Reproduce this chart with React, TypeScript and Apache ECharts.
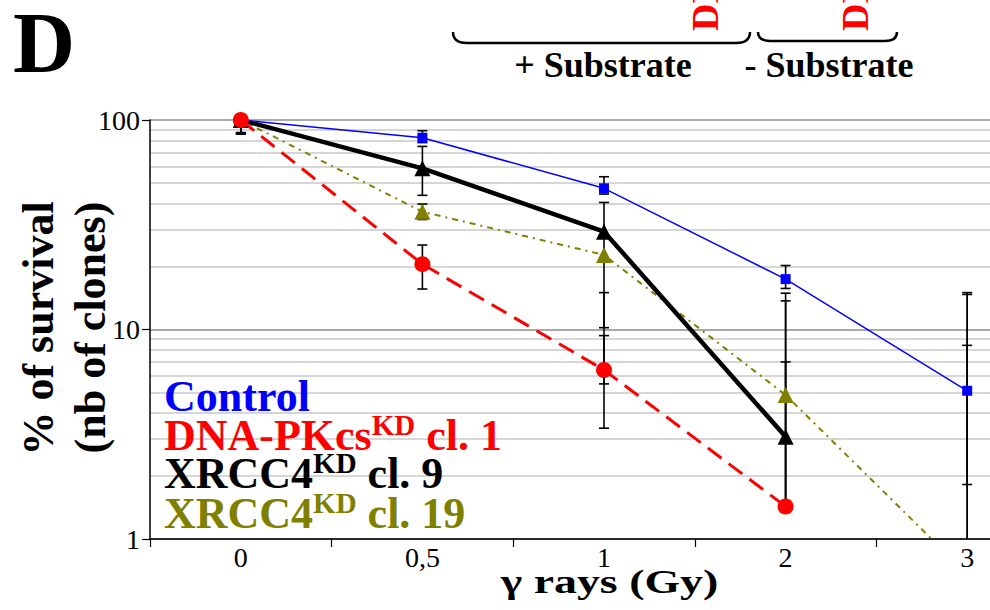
import React, { useEffect, useRef } from 'react';
import * as echarts from 'echarts';

// ---------- data ----------
const doseLabels = ['0', '0,5', '1', '2', '3'];
const yMinValue = 1;
const yMaxValue = 100;
const minorGridValues = [2, 3, 4, 5, 6, 7, 8, 9, 20, 30, 40, 50, 60, 70, 80, 90];

const controlSurvival = [100, 82.3, 47.2, 17.4, 5.1];
const controlLow = [87, 78, 44.3, 15.7, 1.82];
const controlHigh = [105.7, 88.9, 53.6, 20.2, 8.4];

const dnapkSurvival = [100, 20.5, 6.41, 1.43, null];
const dnapkLow = [87, 15.6, 3.38, 1.35, null];
const dnapkHigh = [105.7, 25.3, 9.35, 7.0, null];

const xrcc9Survival = [100, 58.8, 29.3, 3.08, null];
const xrcc9Low = [85.7, 43.7, 10.2, 1.45, 0.5];
const xrcc9High = [103.3, 74.8, 40.4, 14.9, 15.0];

const xrcc19Survival = [100, 36.5, 22.7, 4.87, 0.68];
const xrcc19Low = [85.7, 33.5, 5.5, 1.5, 0.5];
const xrcc19High = [103.3, 39.7, 15.0, 13.7, 14.7];

const legendItems = [
  { name: 'Control', sup: '', tail: '', color: '#0000ff' },
  { name: 'DNA-PKcs', sup: 'KD', tail: ' cl. 1', color: '#ff0000' },
  { name: 'XRCC4', sup: 'KD', tail: ' cl. 9', color: '#000000' },
  { name: 'XRCC4', sup: 'KD', tail: ' cl. 19', color: '#808000' },
];

const SERIF = 'Liberation Serif';

export default function App() {
  const ref = useRef<HTMLDivElement>(null);

  useEffect(() => {
    const chart = echarts.init(ref.current!, null, { renderer: 'svg' });
    const canvas = document.createElement('canvas');
    const ctx = canvas.getContext('2d')!;
    const measure = (t: string, size: number, weight = 'bold') => {
      ctx.font = `${weight} ${size}px "${SERIF}"`;
      return ctx.measureText(t).width;
    };
    const mid = (baseline: number, size: number) => baseline - 0.3375 * size;

    const txt = (
      text: string, x: number, y: number, size: number, color: string,
      align = 'left', extra: any = {}, weight = 'bold', lineHeight?: number
    ) => ({
      type: 'text', x, y, z: 20, silent: true, ...extra,
      style: {
        text, fill: color, fontSize: size, fontWeight: weight, fontFamily: SERIF,
        align, verticalAlign: 'middle', ...(lineHeight ? { lineHeight } : {}),
      },
    });

    const graphics: any[] = [];
    // panel letter
    graphics.push(txt('D', 13, mid(71.7, 86), 86, '#000', 'left', {}, 'bold', 70));
    // brackets
    const br = { stroke: '#000', lineWidth: 2.5, fill: 'none' };
    graphics.push({ type: 'bezierCurve', z: 20, shape: { x1: 453, y1: 32, x2: 467, y2: 43, cpx1: 453, cpy1: 43 }, style: br });
    graphics.push({ type: 'line', z: 20, shape: { x1: 467, y1: 43, x2: 736, y2: 43 }, style: br });
    graphics.push({ type: 'bezierCurve', z: 20, shape: { x1: 736, y1: 43, x2: 750, y2: 32, cpx1: 750, cpy1: 43 }, style: br });
    graphics.push({ type: 'bezierCurve', z: 20, shape: { x1: 758, y1: 32, x2: 770, y2: 41, cpx1: 758, cpy1: 41 }, style: br });
    graphics.push({ type: 'line', z: 20, shape: { x1: 770, y1: 41, x2: 885, y2: 41 }, style: br });
    graphics.push({ type: 'bezierCurve', z: 20, shape: { x1: 885, y1: 41, x2: 897, y2: 32, cpx1: 897, cpy1: 41 }, style: br });
    // rotated red labels (cut off at top, as in the source figure)
    graphics.push(txt('DNA-PKcs', 705.3, 31, 38, '#ff0000', 'left', { rotation: Math.PI / 2 }));
    graphics.push(txt('DNA-PKcs', 855.3, 31, 38, '#ff0000', 'left', { rotation: Math.PI / 2 }));
    // substrate labels
    graphics.push(txt('+ Substrate', 603, mid(77.3, 36), 36, '#000', 'center'));
    graphics.push(txt('- Substrate', 829, mid(77.3, 36), 36, '#000', 'center'));
    // y title
    graphics.push(txt('% of survival', 53 - 0.3375 * 44, 328.5, 44, '#000', 'center', { rotation: Math.PI / 2 }));
    graphics.push(txt('(nb of clones)', 105 - 0.3375 * 44, 327.5, 44, '#000', 'center', { rotation: Math.PI / 2 }));
    // x title
    const xTitle = 'γ rays (Gy)';
    const xScale = 217.6 / measure(xTitle, 33);
    graphics.push(txt(xTitle, 609.5, mid(593.3, 33), 33, '#000', 'center', { scaleX: xScale }));
    // legend
    const legendBaselines = [411.7, 450.7, 488.8, 528.3];
    const legendLeft = 164;
    legendItems.forEach((it, i) => {
      const b = legendBaselines[i];
      let x = legendLeft;
      graphics.push(txt(it.name, x, mid(b, 44), 44, it.color, 'left', {}, 'bold', 36));
      x += measure(it.name, 44);
      if (it.sup) {
        graphics.push(txt(it.sup, x, mid(b - 15.7, 29), 29, it.color, 'left', {}, 'bold', 22));
        x += measure(it.sup, 29);
      }
      if (it.tail) graphics.push(txt(it.tail, x, mid(b, 44), 44, it.color, 'left', {}, 'bold', 36));
    });

    const errData: any[] = [];
    const addErr = (low: (number | null)[], high: (number | null)[]) => {
      low.forEach((l, i) => {
        const h = high[i];
        if (l != null && h != null) errData.push([i, l, h]);
      });
    };
    addErr(controlLow, controlHigh);
    addErr(dnapkLow, dnapkHigh);
    addErr(xrcc9Low, xrcc9High);
    addErr(xrcc19Low, xrcc19High);

    const option: any = {
      animation: false,
      grid: { left: 150, right: -68, top: 120, bottom: 71, containLabel: false, outerBoundsMode: 'none' },
      xAxis: {
        type: 'category',
        data: doseLabels,
        boundaryGap: true,
        axisLine: { show: true, lineStyle: { color: '#000', width: 1.5 } },
        axisTick: { show: true, length: 8, alignWithLabel: false, interval: 0, lineStyle: { color: '#000', width: 1.2 } },
        axisLabel: { color: '#000', fontSize: 28, fontFamily: SERIF, margin: 4, interval: 0 },
        splitLine: { show: false },
      },
      yAxis: {
        type: 'log',
        logBase: 10,
        min: yMinValue,
        max: yMaxValue,
        axisLine: { show: true, lineStyle: { color: '#000', width: 1.5 } },
        axisTick: { show: true, length: 8, lineStyle: { color: '#000', width: 1.2 } },
        axisLabel: { color: '#000', fontSize: 28, fontFamily: SERIF, margin: 10 },
        splitLine: { show: true, lineStyle: { color: '#8c8c8c', width: 1.5 } },
        minorTick: { show: false },
      },
      graphic: graphics,
      series: [
        {
          type: 'line',
          name: 'grid',
          data: [],
          z: 0,
          silent: true,
          markLine: {
            silent: true,
            z: 0,
            symbol: ['none', 'none'],
            label: { show: false },
            lineStyle: { color: '#c8c8c8', width: 1.5, type: 'solid' },
            emphasis: { disabled: true },
            data: minorGridValues.map((v) => ({ yAxis: v })),
          },
        },
        {
          type: 'custom',
          name: 'error bars',
          z: 1,
          silent: true,
          data: errData,
          renderItem: (params: any, api: any) => {
            const i = api.value(0);
            const lo = api.value(1);
            const hi = api.value(2);
            const x = api.coord([i, hi])[0];
            const yHi = api.coord([i, hi])[1];
            const clipped = lo < yMinValue;
            const yLo = api.coord([i, clipped ? yMinValue : lo])[1];
            const st = { stroke: '#000', lineWidth: 1.6 };
            const children: any[] = [
              { type: 'line', shape: { x1: x, y1: yHi, x2: x, y2: yLo }, style: st },
              { type: 'line', shape: { x1: x - 5, y1: yHi, x2: x + 5, y2: yHi }, style: st },
            ];
            if (!clipped) children.push({ type: 'line', shape: { x1: x - 5, y1: yLo, x2: x + 5, y2: yLo }, style: st });
            return { type: 'group', children };
          },
        },
        {
          type: 'line',
          name: 'XRCC4 KD cl. 19',
          data: xrcc19Survival,
          z: 2,
          symbol: 'triangle',
          symbolSize: 16,
          itemStyle: { color: '#808000' },
          lineStyle: { color: '#808000', width: 2, type: [6, 5, 2, 5] },
          clip: true,
        },
        {
          type: 'line',
          name: 'XRCC4 KD cl. 9',
          data: xrcc9Survival,
          z: 3,
          symbol: 'triangle',
          symbolSize: 16,
          itemStyle: { color: '#000000' },
          lineStyle: { color: '#000000', width: 4.5 },
          clip: true,
        },
        {
          type: 'line',
          name: 'Control',
          data: controlSurvival,
          z: 4,
          symbol: 'rect',
          symbolSize: 10,
          itemStyle: { color: '#0000ff' },
          lineStyle: { color: '#0000ff', width: 1.5 },
          clip: true,
        },
        {
          type: 'line',
          name: 'DNA-PKcs KD cl. 1',
          data: dnapkSurvival,
          z: 5,
          symbol: 'circle',
          symbolSize: 16,
          itemStyle: { color: '#ff0000' },
          lineStyle: { color: '#ff0000', width: 3, type: [17, 9] },
          clip: true,
        },
      ],
    };
    chart.setOption(option);
    return () => chart.dispose();
  }, []);

  return (
    <div
      ref={ref}
      style={{ position: 'fixed', left: 0, top: 0, width: 990, height: 610, background: '#fff' }}
    />
  );
}
